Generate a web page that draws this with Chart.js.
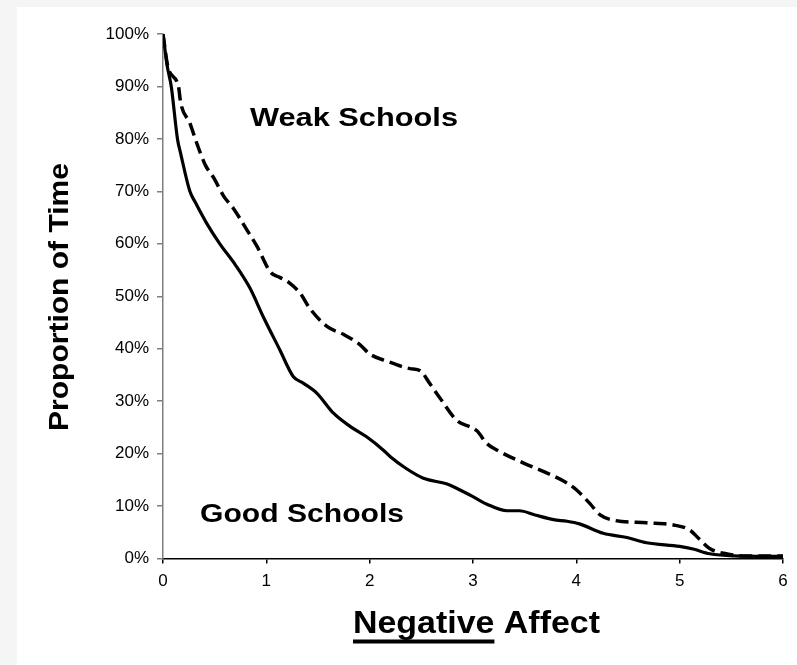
<!DOCTYPE html>
<html lang="en">
    <head>
        <title>Proportion of Time by Negative Affect</title>
        <meta charset="utf-8">
        <script src="https://cdn.jsdelivr.net/npm/chart.js@4.4.1/dist/chart.umd.min.js"></script>
        <style>
            html, body {
                margin: 0;
                padding: 0;
                background: #f5f5f5;
                overflow: hidden;
            }
            #panel {
                position: absolute;
                left: 17px;
                top: 7px;
                width: 780px;
                height: 658px;
                background: #ffffff;
            }
            #chartBox {
                position: absolute;
                left: 0;
                top: 0;
                width: 797px;
                height: 665px;
            }
        </style>
    </head>
    <body>
        <div id="panel"></div>
        <div id="chartBox"> <!-- chart container -->
            <canvas id="affectChart" width="797" height="665"></canvas>
        </div>
        <script>
            // Weak Schools (dashed) - negative affect vs % of time
            var weakX = [0, 0.05, 0.15, 0.17, 0.26, 0.33, 0.41, 0.49, 0.59, 0.68, 0.81, 0.91, 1.04, 1.13, 1.22,
                1.33, 1.42, 1.59, 1.75, 1.91, 2.0, 2.17, 2.39, 2.49, 2.58, 2.68, 2.84, 3.04, 3.13, 3.23, 3.49,
                3.68, 3.91, 4.0, 4.13, 4.23, 4.36, 4.68, 4.94, 5.10, 5.18, 5.29, 5.45, 5.64, 6.0];
            var weakY = [100, 93.5, 90, 87, 83, 79, 75, 72.6, 69, 66.8, 62.7, 59.5, 54.6, 53.6, 52.6,
                50.5, 47.7, 44.2, 42.7, 40.7, 39, 37.6, 36.2, 35.8, 33.4, 30.6, 26.4, 24.3, 22, 20.7, 18.2,
                16.6, 14.4, 13.1, 10.5, 8.3, 7.3, 6.8, 6.4, 5.4, 3.9, 1.9, 0.9, 0.5, 0.5];

            // Good Schools (solid)
            var goodX = [0, 0.04, 0.08, 0.14, 0.17, 0.26, 0.31, 0.42, 0.55, 0.7, 0.84, 0.97, 1.13, 1.26, 1.36,
                1.49, 1.65, 1.81, 1.97, 2.13, 2.2, 2.35, 2.52, 2.75, 2.84, 3.0, 3.13, 3.33, 3.45, 3.6, 3.78,
                3.91, 4.03, 4.26, 4.49, 4.68, 5.0, 5.13, 5.29, 5.52, 6.0];
            var goodY = [100, 94, 90, 80, 77.3, 70, 68, 64, 60, 56, 51.6, 46.1, 39.8, 34.7, 33.4,
                31.5, 27.7, 25.2, 23.2, 20.7, 19.4, 17.2, 15.3, 14.2, 13.4, 11.8, 10.4, 9.1, 9.1, 8.3, 7.4,
                7.1, 6.6, 4.8, 4.0, 3.0, 2.3, 1.8, 0.9, 0.5, 0.4];

            var xTicks = [0, 1, 2, 3, 4, 5, 6];
            var yTicks = [0, 10, 20, 30, 40, 50, 60, 70, 80, 90, 100];

            function toPoints(xs, ys) {
                var pts = [];
                for (var i = 0; i < xs.length; i++) {
                    pts.push({x: xs[i], y: ys[i]});
                }
                return pts;
            }

            var FONT = "'Liberation Sans', Arial, sans-serif";

            // draws bold text stretched to a given width (reference text is a bit wide)
            function stretchText(ctx, text, cx, baseline, size, width, angle) {
                ctx.save();
                ctx.font = 'bold ' + size + 'px ' + FONT;
                var w = ctx.measureText(text).width;
                ctx.translate(cx, baseline);
                if (angle) ctx.rotate(angle);
                ctx.scale(width / w, 1);
                ctx.textAlign = 'center';
                ctx.textBaseline = 'alphabetic';
                ctx.fillStyle = '#000';
                ctx.fillText(text, 0, 0);
                ctx.restore();
            }

            var labelsPlugin = {
                id: 'labelsPlugin',
                afterDraw: function(chart) {
                    var ctx = chart.ctx;
                    stretchText(ctx, 'Weak Schools', 354, 126, 26, 208, 0);
                    stretchText(ctx, 'Good Schools', 302, 522, 26, 204, 0);
                    stretchText(ctx, 'Proportion of Time', 68, 297, 27, 268, -Math.PI / 2);

                    // x axis title with "Negative" underlined
                    ctx.save();
                    ctx.font = 'bold 32px ' + FONT;
                    ctx.fillStyle = '#000';
                    ctx.textBaseline = 'alphabetic';
                    ctx.textAlign = 'left';
                    var w1 = ctx.measureText('Negative').width;
                    var w2 = ctx.measureText('Negative Affect').width;
                    var sx = 247 / w2;
                    ctx.translate(353, 633);
                    ctx.scale(sx, 1);
                    ctx.fillText('Negative Affect', 0, 0);
                    ctx.fillRect(0, 6.5, w1, 4);
                    ctx.restore();
                }
            };

            var ctx = document.getElementById('affectChart').getContext('2d');
            var myChart = new Chart(ctx, {
                type: 'line',
                data: {
                    datasets: [{
                        label: 'Weak Schools',
                        data: toPoints(weakX, weakY),
                        borderColor: '#000',
                        borderWidth: 3.5,
                        borderDash: [13, 6],
                        pointRadius: 0,
                        cubicInterpolationMode: 'monotone',
                        fill: false
                    }, {
                        label: 'Good Schools',
                        data: toPoints(goodX, goodY),
                        borderColor: '#000',
                        borderWidth: 3.2,
                        pointRadius: 0,
                        cubicInterpolationMode: 'monotone',
                        fill: false
                    }]
                },
                options: {
                    responsive: false,
                    animation: false,
                    layout: {
                        padding: {left: 0, right: 14, top: 34, bottom: 0}
                    },
                    plugins: {
                        legend: {display: false},
                        tooltip: {enabled: false}
                    },
                    scales: {
                        x: {
                            type: 'linear',
                            min: 0,
                            max: 6,
                            afterBuildTicks: function(scale) {
                                scale.ticks = xTicks.map(function(v) { return {value: v}; });
                            },
                            afterFit: function(scale) { scale.height = 106.5; },
                            border: {display: true, color: '#000', width: 1.5},
                            grid: {display: true, drawOnChartArea: false, drawTicks: true, tickLength: 5,
                                color: '#000', lineWidth: 1.5},
                            ticks: {
                                color: '#000',
                                padding: 8,
                                maxRotation: 0,
                                font: {family: FONT, size: 17}
                            }
                        },
                        y: {
                            type: 'linear',
                            min: 0,
                            max: 100,
                            afterBuildTicks: function(scale) {
                                scale.ticks = yTicks.map(function(v) { return {value: v}; });
                            },
                            afterFit: function(scale) { scale.width = 163; },
                            border: {display: true, color: '#7f7f7f', width: 1.5},
                            grid: {display: true, drawOnChartArea: false, drawTicks: true, tickLength: 6,
                                color: '#7f7f7f', lineWidth: 1.5},
                            ticks: {
                                color: '#000',
                                padding: 8,
                                font: {family: FONT, size: 17},
                                callback: function(v) { return v + '%'; }
                            }
                        }
                    }
                },
                plugins: [labelsPlugin]
            });
        </script>
    </body>
</html>
